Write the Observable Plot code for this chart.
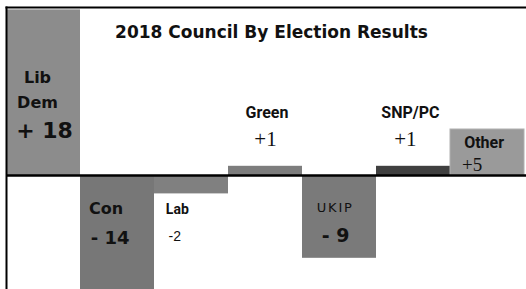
<!DOCTYPE html>
<html>
<head>
<meta charset="utf-8">
<script src="https://cdn.jsdelivr.net/npm/d3@7"></script>
<script src="https://cdn.jsdelivr.net/npm/@observablehq/plot@0.6"></script>
<style>
  html, body { margin: 0; padding: 0; background: #fff; }
  #chart { width: 526px; height: 289px; overflow: hidden; }
  #chart svg { display: block; }
</style>
</head>
<body>
<div id="chart"></div>
<script>
// ---- data ----
const parties = ["Lib Dem", "Con", "Lab", "Green", "UKIP", "SNP/PC", "Other"];
const changes = [18, -14, -2, 1, -9, 1, 5];
const nameLabels = ["Lib\nDem", "Con", "Lab", "Green", "UKIP", "SNP/PC", "Other"];
const valueLabels = ["+ 18", "- 14", "-2", "+1", "- 9", "+1", "+5"];
const barColors = ["#8c8c8c", "#777777", "#808080", "#7d7d7d", "#7a7a7a", "#404040", "#9a9a9a"];
const title = "2018 Council By Election Results";

const rows = parties.map((p, i) => ({party: p, change: changes[i], name: nameLabels[i], value: valueLabels[i], color: barColors[i]}));

// ---- label styles (offsets from each bar's centre at the zero line) ----
const VERD = "DejaVu Sans, Verdana, sans-serif";
const NARROW = "Roboto, Liberation Sans, sans-serif";
const SERIF = "Liberation Serif, Times New Roman, serif";
const SANS = "Liberation Sans, Arial, sans-serif";
const nameStyle = [
  {dx: -6, dy: -68, font: VERD, size: 16, weight: "bold", lh: 1.56},
  {dx: -11.4, dy: 38, font: VERD, size: 16, weight: "bold"},
  {dx: -14.2, dy: 38, font: NARROW, size: 14, weight: "bold"},
  {dx: 1.5, dy: -58, font: NARROW, size: 16, weight: "bold"},
  {dx: -4.3, dy: 36, font: VERD, size: 13, weight: "normal", ls: 1.8},
  {dx: -3.1, dy: -58, font: NARROW, size: 16, weight: "bold"},
  {dx: -3.4, dy: -28, font: NARROW, size: 16, weight: "bold"}
];
const valueStyle = [
  {dx: 1, dy: -38, font: VERD, size: 22, weight: "bold"},
  {dx: -7.4, dy: 68, font: VERD, size: 18, weight: "bold"},
  {dx: -16.7, dy: 65, font: SANS, size: 14, weight: "normal"},
  {dx: 0, dy: -30, font: SERIF, size: 21, weight: "normal"},
  {dx: -3.8, dy: 66, font: VERD, size: 19, weight: "bold"},
  {dx: -8.1, dy: -30, font: SERIF, size: 21, weight: "normal"},
  {dx: -15.4, dy: -5, font: SERIF, size: 19, weight: "normal"}
];

function labelMark(i, field, s) {
  return Plot.text([rows[i]], {
    x: "party", y: () => 0, text: field,
    dx: s.dx, dy: s.dy, textAnchor: "middle", lineAnchor: "bottom",
    lineHeight: s.lh || 1, fontFamily: s.font, fontSize: s.size, fontWeight: s.weight,
    fill: "#111"
  });
}

const marks = [
  Plot.barY(rows, {x: "party", y: "change", fill: "color", stroke: (d) => d.party === "Other" ? "#b0b0b0" : "none", strokeWidth: 1}),
  Plot.ruleY([0], {stroke: "#000", strokeWidth: 2.5}),
  Plot.frame({anchor: "top", stroke: "#000", strokeWidth: 2}),
  Plot.frame({anchor: "left", stroke: "#000", strokeWidth: 2}),
  Plot.text([title], {frameAnchor: "top", text: (d) => d, dx: 5, dy: 30, lineAnchor: "bottom",
    fontFamily: VERD, fontSize: 17, fontWeight: "bold", fill: "#111"})
];
rows.forEach((r, i) => {
  marks.push(labelMark(i, "name", nameStyle[i]));
  marks.push(labelMark(i, "value", valueStyle[i]));
});

const chart = Plot.plot({
  width: 526,
  height: 289,
  marginTop: 7,
  marginLeft: 6,
  marginRight: 0,
  marginBottom: 0,
  style: {background: "#fff", overflow: "hidden"},
  x: {domain: parties, range: [5, 525], padding: 0, axis: null},
  y: {domain: [-12.39, 19.02], range: [289, 0], axis: null},
  color: {type: "identity"},
  marks
});
document.getElementById("chart").appendChild(chart);

// letter spacing for the UKIP label
d3.select(chart).selectAll("text").filter(function () { return this.textContent === "UKIP"; })
  .attr("letter-spacing", nameStyle[4].ls);
</script>
</body>
</html>
